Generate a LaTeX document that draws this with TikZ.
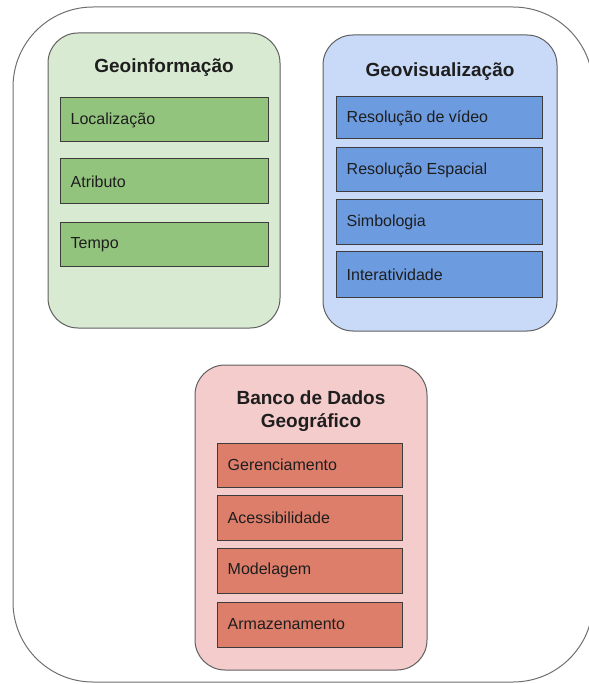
\documentclass[tikz,border=0pt]{standalone}
\usepackage{fontspec}
\setmainfont{Liberation Sans}
\definecolor{gfill}{HTML}{D9EAD3}
\definecolor{ginner}{HTML}{93C47D}
\definecolor{bfill}{HTML}{C9DAF8}
\definecolor{binner}{HTML}{6C9BE0}
\definecolor{rfill}{HTML}{F4CCCC}
\definecolor{rinner}{HTML}{DD7E6B}
\definecolor{edge}{HTML}{5F5F5F}
\definecolor{itemedge}{HTML}{3C3C3C}
\definecolor{txt}{HTML}{1E1E1E}
\tikzset{
  container/.style={draw=edge, line width=1pt, rounded corners=30pt, inner sep=0pt},
  item/.style={draw=itemedge, line width=1pt, inner sep=0pt},
  itemtext/.style={anchor=west, inner sep=0pt, text=txt, font=\fontsize{16}{18}\selectfont},
  titletext/.style={inner sep=0pt, text=txt, align=center, font=\fontsize{19}{22.5}\selectfont\bfseries}
}
\begin{document}
\begin{tikzpicture}[x=1pt,y=-1pt]
\useasboundingbox (0,0) rectangle (588,684);
% outer frame
\node[draw=edge!90, line width=1pt, rounded corners=80pt, minimum width=580pt, minimum height=675pt, inner sep=0pt] (frame) at (303,344.5) {};

% Geoinformacao
\node[container, fill=gfill, minimum width=232pt, minimum height=295pt] (geo) at (164,180.5) {};
\node[titletext] (geot) at (164,68) {Geoinformação};
\node[item, fill=ginner, minimum width=208pt, minimum height=44pt] (g1) at (164,120) {};
\node[itemtext] (g1t) at ([xshift=11pt]g1.west) {Localização};
\node[item, fill=ginner, minimum width=208pt, minimum height=45pt] (g2) at (164,181.5) {};
\node[itemtext] (g2t) at ([xshift=11pt]g2.west) {Atributo};
\node[item, fill=ginner, minimum width=208pt, minimum height=43pt] (g3) at (164,244.5) {};
\node[itemtext] (g3t) at ([xshift=11pt]g3.west) {Tempo};

% Geovisualizacao
\node[container, fill=bfill, minimum width=234pt, minimum height=296pt] (vis) at (440,183) {};
\node[titletext] (vist) at (440,72) {Geovisualização};
\node[item, fill=binner, minimum width=206pt, minimum height=42pt] (b1) at (439,118) {};
\node[itemtext] (b1t) at ([xshift=11pt]b1.west) {Resolução de vídeo};
\node[item, fill=binner, minimum width=206pt, minimum height=44pt] (b2) at (439,170) {};
\node[itemtext] (b2t) at ([xshift=11pt]b2.west) {Resolução Espacial};
\node[item, fill=binner, minimum width=206pt, minimum height=45pt] (b3) at (439,222.5) {};
\node[itemtext] (b3t) at ([xshift=11pt]b3.west) {Simbologia};
\node[item, fill=binner, minimum width=206pt, minimum height=45pt] (b4) at (439,274.5) {};
\node[itemtext] (b4t) at ([xshift=11pt]b4.west) {Interatividade};

% Banco de Dados Geografico
\node[container, fill=rfill, minimum width=232pt, minimum height=305pt] (bdg) at (311,517.5) {};
\node[titletext] (bdgt) at (311,411) {Banco de Dados\\Geográfico};
\node[item, fill=rinner, minimum width=185pt, minimum height=44pt] (r1) at (309.5,465) {};
\node[itemtext] (r1t) at ([xshift=11pt]r1.west) {Gerenciamento};
\node[item, fill=rinner, minimum width=185pt, minimum height=45pt] (r2) at (309.5,517.5) {};
\node[itemtext] (r2t) at ([xshift=11pt]r2.west) {Acessibilidade};
\node[item, fill=rinner, minimum width=185pt, minimum height=45pt] (r3) at (309.5,570.5) {};
\node[itemtext] (r3t) at ([xshift=11pt]r3.west) {Modelagem};
\node[item, fill=rinner, minimum width=185pt, minimum height=45pt] (r4) at (309.5,624.5) {};
\node[itemtext] (r4t) at ([xshift=11pt]r4.west) {Armazenamento};
\end{tikzpicture}
\end{document}
